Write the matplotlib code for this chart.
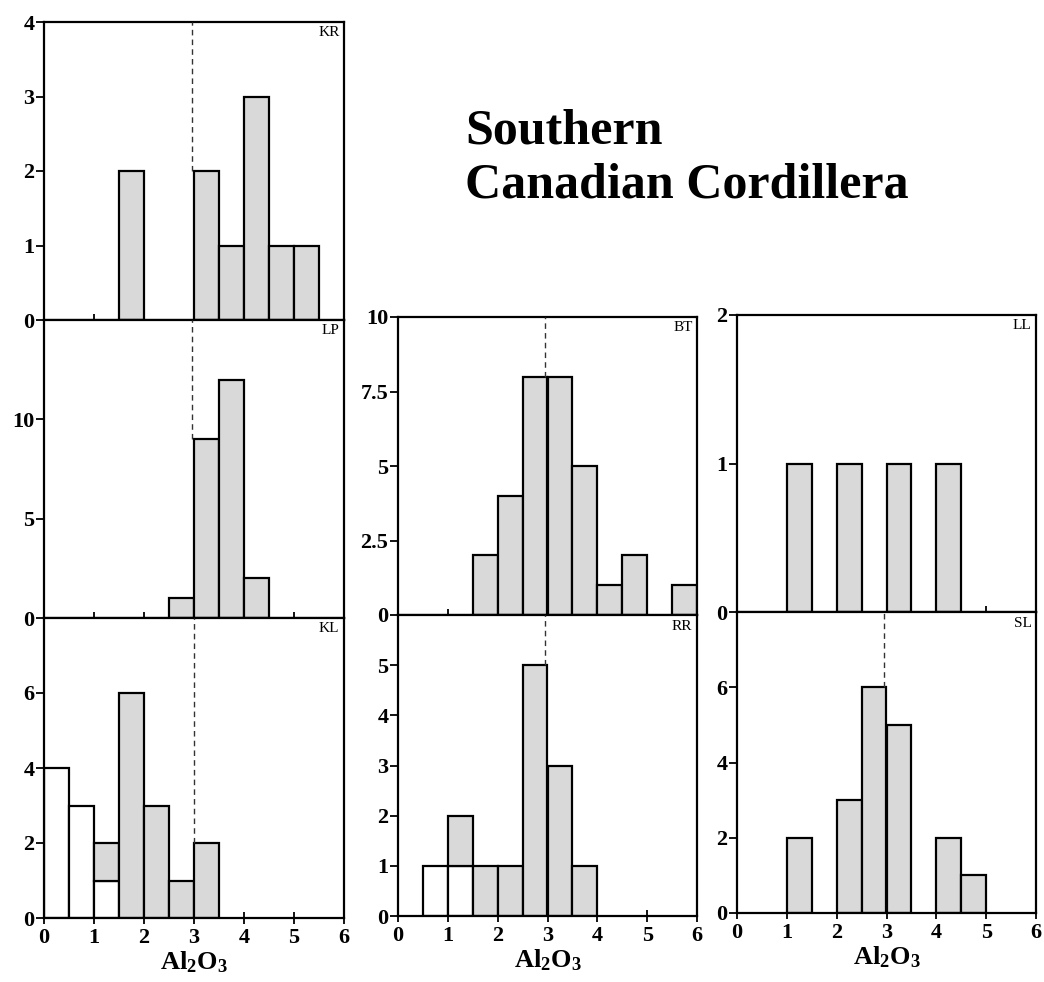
import matplotlib
matplotlib.use("Agg")
import matplotlib.pyplot as plt
import numpy as np
from matplotlib.ticker import FuncFormatter

plt.rcParams["font.family"] = ["Liberation Serif", "DejaVu Serif"]
plt.rcParams["mathtext.fontset"] = "custom"
plt.rcParams["mathtext.rm"] = "Liberation Serif"
plt.rcParams["mathtext.bf"] = "Liberation Serif:bold"

# bin edges: 0 to 6 in steps of 0.5
bin_left = np.arange(0, 6, 0.5)

kr_gray = [0, 0, 0, 2, 0, 0, 2, 1, 3, 1, 1, 0]
lp_gray = [0, 0, 0, 0, 0, 1, 9, 12, 2, 0, 0, 0]
kl_white = [4, 3, 1, 0, 0, 0, 0, 0, 0, 0, 0, 0]
kl_gray = [0, 0, 1, 6, 3, 1, 2, 0, 0, 0, 0, 0]
bt_gray = [0, 0, 0, 2, 4, 8, 8, 5, 1, 2, 0, 1]
rr_white = [0, 1, 1, 0, 0, 0, 0, 0, 0, 0, 0, 0]
rr_gray = [0, 0, 1, 1, 1, 5, 3, 1, 0, 0, 0, 0]
ll_gray = [0, 0, 1, 0, 1, 0, 1, 0, 1, 0, 0, 0]
sl_gray = [0, 0, 2, 0, 3, 6, 5, 0, 2, 1, 0, 0]

# mean lines: x position and the count where the dashes stop
mean_x = {"KR": 2.95, "LP": 2.95, "KL": 3.0, "BT": 2.95, "RR": 2.95, "SL": 2.95}
mean_stop = {"KR": 2, "LP": 9, "KL": 2, "BT": 8, "RR": 5, "SL": 6}

GRAY = "#d9d9d9"
W, H = 1044, 982


def box(l, t, r, b):
    return [l / W, 1 - b / H, (r - l) / W, (b - t) / H]


fig = plt.figure(figsize=(10.44, 9.82), dpi=100)

panels = [
    # name, rect, ylim, yticks, white, gray, bottom panel
    ("KR", box(44, 22, 344, 320), 4, [0, 1, 2, 3, 4], None, kr_gray, False),
    ("LP", box(44, 320, 344, 618), 15, [0, 5, 10], None, lp_gray, False),
    ("KL", box(44, 618, 344, 918), 8, [0, 2, 4, 6], kl_white, kl_gray, True),
    ("BT", box(398, 317, 697, 615), 10, [0, 2.5, 5, 7.5, 10], None, bt_gray, False),
    ("RR", box(398, 615, 697, 916), 6, [0, 1, 2, 3, 4, 5], rr_white, rr_gray, True),
    ("LL", box(737, 315, 1036, 612), 2, [0, 1, 2], None, ll_gray, False),
    ("SL", box(737, 612, 1036, 913), 8, [0, 2, 4, 6], None, sl_gray, True),
]

for name, rect, ymax, yticks, white, gray, bottom in panels:
    ax = fig.add_axes(rect)
    base = np.zeros(len(bin_left))
    if white is not None:
        w = np.array(white, dtype=float)
        m = w > 0
        ax.bar(bin_left[m], w[m], width=0.5, align="edge", color="white",
               edgecolor="black", linewidth=1.6, zorder=2)
        base = w
    g = np.array(gray, dtype=float)
    m = g > 0
    ax.bar(bin_left[m], g[m], width=0.5, bottom=base[m], align="edge",
           color=GRAY, edgecolor="black", linewidth=1.6, zorder=2)

    if name in mean_x:
        ax.plot([mean_x[name], mean_x[name]], [mean_stop[name], ymax],
                color="#333333", linestyle=(0, (4, 3)), linewidth=1.0, zorder=3)

    ax.set_xlim(0, 6)
    ax.set_ylim(0, ymax)
    ax.set_yticks(yticks)
    ax.yaxis.set_major_formatter(FuncFormatter(lambda v, p: "%g" % v))
    ax.set_xticks(range(0, 7))
    ax.tick_params(axis="y", direction="out", length=6, width=1.3,
                   labelsize=16, pad=1)
    ax.tick_params(axis="x", direction="inout", length=9, width=1.3,
                   labelsize=16, pad=3)
    for lab in ax.get_yticklabels() + ax.get_xticklabels():
        lab.set_fontweight("bold")
    if bottom:
        ax.set_xlabel(r"$\mathbf{Al_2O_3}$", fontsize=19, labelpad=1)
    else:
        ax.tick_params(axis="x", labelbottom=False)
    for s in ax.spines.values():
        s.set_linewidth(1.6)
    ax.text(0.985, 0.985, name, transform=ax.transAxes, ha="right", va="top",
            fontsize=11)

fig.text(465 / W, 1 - 144 / H, "Southern", fontsize=36, fontweight="bold",
         ha="left", va="baseline")
fig.text(465 / W, 1 - 198 / H, "Canadian Cordillera", fontsize=36,
         fontweight="bold", ha="left", va="baseline")

fig.savefig("out.png", dpi=100)
